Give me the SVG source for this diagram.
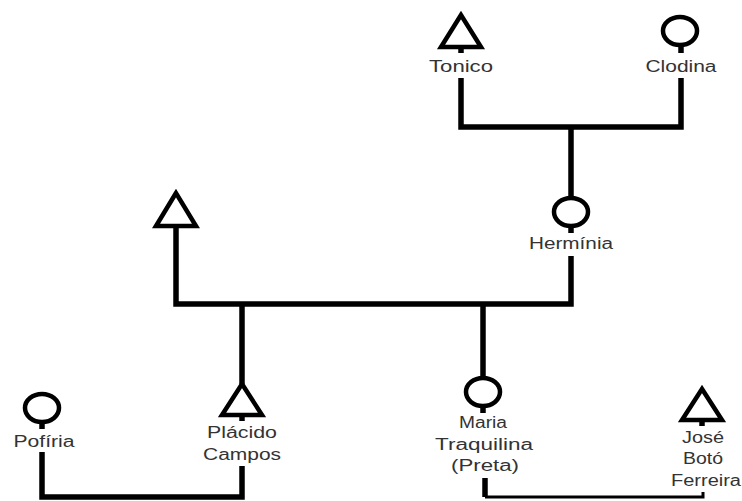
<svg xmlns="http://www.w3.org/2000/svg" width="742" height="501" viewBox="0 0 742 501">
  <style>
    .ln { fill: none; stroke: #000; stroke-width: 5.5; stroke-linecap: butt; stroke-linejoin: miter; }
    .thin { fill: none; stroke: #000; stroke-width: 3; }
    .shape { fill: #fff; stroke: #000; stroke-width: 4.5; stroke-linejoin: miter; }
    .lbl { font-family: "Liberation Sans", Arial, sans-serif; font-size: 16px; fill: #333; text-anchor: middle; }
  </style>
  <rect width="742" height="501" fill="#fff"/>

  <!-- kinship lines -->
  <g id="connectors">
    <!-- Tonico + Clodina -> Hermínia -->
    <path class="ln" d="M461,47 V53"/>
    <path class="ln" d="M461,78 V127 H681 V78"/>
    <path class="ln" d="M681,46 V53"/>
    <path class="ln" d="M571,127 V198"/>
    <path class="ln" d="M571,227 V233"/>
    <!-- Hermínia + unnamed man -> children -->
    <path class="ln" d="M571,256 V304 H176 V228"/>
    <path class="ln" d="M242,304 V384"/>
    <path class="ln" d="M483,304 V378"/>
    <path class="ln" d="M242,415 V421"/>
    <path class="ln" d="M483,407 V413"/>
    <!-- Pofíria + Plácido -->
    <path class="ln" d="M42,423 V429"/>
    <path class="ln" d="M42,452 V497 H242 V466"/>
    <!-- Maria + José -->
    <path class="ln" d="M702,420 V426"/>
    <path class="ln" d="M485,478 V497"/>
    <path class="thin" d="M485,497 H703 V492"/>
  </g>

  <g id="tonico">
    <polygon class="shape" points="461,15 441,47 481,47"/>
    <text class="lbl" x="461" y="72" textLength="64" lengthAdjust="spacingAndGlyphs">Tonico</text>
  </g>

  <g id="clodina">
    <ellipse class="shape" cx="680" cy="31" rx="17" ry="14"/>
    <text class="lbl" x="681" y="72" textLength="71" lengthAdjust="spacingAndGlyphs">Clodina</text>
  </g>

  <g id="herminia">
    <ellipse class="shape" cx="571" cy="212" rx="17" ry="14"/>
    <text class="lbl" x="571" y="249" textLength="84" lengthAdjust="spacingAndGlyphs">Hermínia</text>
  </g>

  <g id="pai">
    <polygon class="shape" points="176,193 156,226 196,226"/>
  </g>

  <g id="placido">
    <polygon class="shape" points="242,384 222,415 262,415"/>
    <text class="lbl" x="242" y="438" textLength="70" lengthAdjust="spacingAndGlyphs">Plácido</text>
    <text class="lbl" x="242" y="460" textLength="78" lengthAdjust="spacingAndGlyphs">Campos</text>
  </g>

  <g id="pofiria">
    <ellipse class="shape" cx="42" cy="408" rx="17" ry="14"/>
    <text class="lbl" x="44" y="447" textLength="61" lengthAdjust="spacingAndGlyphs">Pofíria</text>
  </g>

  <g id="maria">
    <ellipse class="shape" cx="483" cy="392" rx="17" ry="14"/>
    <text class="lbl" x="483" y="428" textLength="48" lengthAdjust="spacingAndGlyphs">Maria</text>
    <text class="lbl" x="484" y="450" textLength="98" lengthAdjust="spacingAndGlyphs">Traquilina</text>
    <text class="lbl" x="485" y="471" textLength="68" lengthAdjust="spacingAndGlyphs">(Preta)</text>
  </g>

  <g id="jose">
    <polygon class="shape" points="702,389 682,420 722,420"/>
    <text class="lbl" x="703" y="443" textLength="42" lengthAdjust="spacingAndGlyphs">José</text>
    <text class="lbl" x="703" y="464" textLength="40" lengthAdjust="spacingAndGlyphs">Botó</text>
    <text class="lbl" x="706" y="486" textLength="70" lengthAdjust="spacingAndGlyphs">Ferreira</text>
  </g>
</svg>
